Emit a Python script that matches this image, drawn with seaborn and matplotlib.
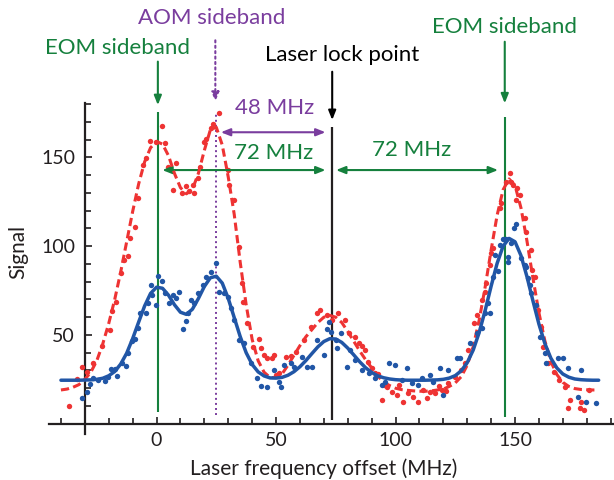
import numpy as np
import pandas as pd
import matplotlib
matplotlib.use("Agg")
import matplotlib.pyplot as plt
from matplotlib.ticker import MultipleLocator, FixedLocator
import seaborn as sns

# measured signal (dots)
red_mhz = [-36.7, -33.2, -31.4, -28.9, -26.5, -23.0, -19.6, -18.5, -17.0, -14.7, -13.8, -12.0, -11.2, -9.2,
           -7.6, -5.7, -4.3, -2.6, -0.4, 2.4, 3.6, 4.7, 6.8, 8.2, 10.7, 12.4, 13.6, 15.1, 15.8, 17.2, 18.2,
           20.0, 20.7, 22.8, 23.5, 26.2, 29.7, 30.4, 32.5, 34.6, 35.7, 36.0, 38.0, 40.4, 42.9, 43.6, 45.0,
           46.4, 48.5, 49.2, 49.9, 51.2, 54.3, 56.1, 58.2, 61.7, 64.5, 67.2, 68.6, 71.4, 73.5, 76.0, 79.0,
           80.4, 82.9, 84.6, 86.0, 87.4, 88.5, 90.1, 91.5, 92.8, 94.3, 95.0, 96.4, 98.5, 100.5, 101.5, 103.3,
           105.4, 107.5, 109.6, 111.7, 113.0, 114.4, 116.5, 118.0, 119.3, 121.0, 122.1, 124.9, 127.6, 129.0,
           130.4, 132.9, 133.9, 136.0, 137.4, 138.0, 139.5, 140.1, 140.8, 143.6, 144.3, 146.4, 147.8, 148.5,
           149.2, 150.6, 151.0, 152.0, 154.0, 154.7, 156.8, 156.9, 158.2, 159.6, 161.0, 161.7, 163.8, 166.5,
           168.6, 170.7, 172.1, 172.8, 177.0, 177.6, 179.0, 181.1]
red_sig = [10, 25, 32, 29, 34, 44, 53, 63.5, 68.7, 84.7, 92, 94.5, 104.6, 111,
           127, 145.7, 149.5, 159.4, 158.7, 167.7, 158.3, 144.8, 131.6, 146.7, 129.8, 133.9, 131, 134.5, 129.8, 138.2, 144.8,
           158.9, 160.2, 166.4, 168.8, 175.2, 142.9, 134.5, 126, 99.7, 79, 68.7, 56.6, 43.4, 47.5, 42.5, 38.7,
           36.8, 36.8, 38.7, 27.4, 28.7, 37.7, 38.1, 40.6, 47.2, 54.6, 62.5, 64, 61.2, 58.4, 62.2, 58.4,
           50.9, 49, 45.3, 44, 41.5, 35, 31.2, 28.4, 28, 13.4, 22, 20.8, 18, 16.2, 22, 12.4,
           17.1, 15.2, 12.4, 19, 14.5, 18, 17.1, 21, 19, 18.5, 22.8, 26.5, 30.3, 34,
           41.5, 56.6, 61.2, 69.7, 74.4, 79, 89.4, 96, 98.8, 121.3, 124.2, 136.3, 141.4, 136.3,
           134.5, 126, 132.6, 128.8, 115.7, 108.2, 97.9, 86.6, 82.8, 64, 54.6, 43.4, 34, 29.3,
           24.6, 20.8, 8.7, 13.4, 8.7, 12.4, 7.7, 19]

blue_mhz = [-31.4, -29.3, -27.9, -26.5, -24.5, -21.7, -20.3, -18.9, -17.5, -16.5, -14.3, -12.9, -12.0, -10.1,
            -9.2, -7.8, -6.8, -4.6, -3.6, -2.2, -1.8, -0.4, 0.8, 2.4, 3.6, 5.1, 6.8, 8.2, 9.6, 11.0, 12.4,
            13.3, 14.5, 15.8, 17.2, 19.3, 20.7, 22.8, 24.9, 26.2, 28.3, 29.7, 31.1, 32.5, 34.6, 36.7, 39.5,
            42.2, 43.6, 46.4, 49.2, 51.2, 51.9, 53.3, 56.1, 57.5, 60.7, 63.0, 65.1, 67.2, 70.0, 71.4, 72.1,
            73.2, 74.9, 75.6, 77.0, 79.7, 81.1, 83.2, 86.0, 88.8, 91.5, 94.3, 95.7, 97.1, 99.9, 102.6, 104.7,
            106.8, 109.6, 111.0, 114.4, 115.8, 118.6, 120.0, 122.1, 125.6, 127.0, 131.1, 133.9, 136.0, 137.4,
            138.8, 139.5, 140.8, 141.5, 142.9, 143.6, 145.0, 146.4, 146.9, 147.1, 148.5, 149.6, 150.6, 152.6,
            154.0, 154.7, 155.4, 156.1, 156.8, 158.9, 160.3, 162.4, 163.1, 167.9, 170.0, 172.1, 176.2, 177.6,
            179.7, 183.9]
blue_sig = [14.3, 18, 22.4, 26, 24.6, 24.2, 26.5, 30.6, 30.6, 26.9, 34.4, 32.5, 39.7, 46.8,
            47.5, 54, 62.2, 62.5, 67.8, 78, 72.5, 66.9, 83.2, 80.6, 73.4, 67.8, 72.5, 70.6, 74.4, 53.2, 58,
            62.2, 69.7, 68.2, 73.5, 78.1, 82.5, 85.6, 90.4, 74.4, 73.5, 71.6, 65, 58.4, 47.2, 45.3, 34,
            25.6, 21.2, 20.5, 30.3, 23.7, 20.8, 33, 34, 32.1, 37.7, 32.1, 32.1, 47.2, 38.7, 53.2, 57.5,
            51.8, 47.2, 42.5, 50.9, 32.1, 41.5, 35.9, 30.3, 28.4, 25.6, 21.8, 23.7, 34, 33, 24.6, 31.2,
            22.8, 21.8, 25.6, 27.4, 23.7, 31.2, 16.2, 30.3, 36.8, 36.8, 45.3, 50.9, 53.7, 62.2,
            67.8, 62.2, 82.8, 95, 86.2, 100.7, 103.9, 103.9, 94.1, 91.3, 101.6, 110.1, 112.5, 93.2,
            89.4, 88.5, 81.9, 78.1, 73.5, 66.9, 49, 39.7, 34, 36.8, 36.8, 31.2, 15.2, 30.3,
            12.4, 11.5]

fit_mhz = [-40, -37.5, -35, -32.5, -30, -27.5, -25, -22.5, -20, -17.5, -15, -12.5, -10, -7.5, -5, -2.5,
           0, 2.5, 5, 7.5, 10, 12.5, 15, 17.5, 20, 22.5, 25, 27.5, 30, 32.5, 35, 37.5,
           40, 42.5, 45, 47.5, 50, 52.5, 55, 57.5, 60, 62.5, 65, 67.5, 70, 72.5, 75, 77.5,
           80, 82.5, 85, 87.5, 90, 92.5, 95, 97.5, 100, 102.5, 105, 107.5, 110, 112.5, 115, 117.5,
           120, 122.5, 125, 127.5, 130, 132.5, 135, 137.5, 140, 142.5, 145, 147.5, 150, 152.5, 155, 157.5,
           160, 162.5, 165, 167.5, 170, 172.5, 175, 177.5, 180, 182.5, 185]
blue_fit = [24.5, 24.5, 24.5, 24.5, 24.6, 24.7, 25.0, 25.6, 27.0, 29.4, 33.6, 39.7, 47.9, 57.2, 66.3, 73.4,
            76.9, 76.3, 72.4, 67.0, 62.8, 61.6, 64.5, 70.5, 77.3, 82.2, 83.1, 79.2, 70.6, 59.8, 49.1, 40.0,
            33.4, 29.2, 26.9, 25.8, 25.7, 26.1, 27.3, 29.3, 32.1, 35.6, 39.5, 43.3, 46.3, 47.9, 47.7, 45.8,
            42.6, 38.8, 34.9, 31.5, 28.9, 27.0, 25.9, 25.2, 24.8, 24.6, 24.5, 24.5, 24.5, 24.5, 24.6, 24.7,
            25.0, 25.7, 27.1, 29.8, 34.4, 41.5, 51.4, 63.8, 77.5, 90.3, 100.0, 104.4, 102.5, 94.7, 82.8, 69.2,
            56.1, 45.1, 36.9, 31.4, 28.0, 26.2, 25.2, 24.8, 24.6, 24.5, 24.5]
red_fit = [19.0, 19.5, 20.5, 22.0, 25.0, 29.0, 35.5, 45.0, 56.5, 70.0, 85.5, 102.5, 119.5, 135.0, 147.5, 155.5,
           159.0, 157.5, 151.0, 141.0, 133.0, 129.5, 132.0, 141.0, 154.0, 165.5, 167.0, 157.0, 139.0, 118.0, 91.0, 67.0,
           47.5, 35.5, 29.0, 26.0, 26.0, 28.0, 33.0, 38.5, 44.0, 49.0, 53.0, 57.0, 60.0, 61.0, 60.0, 57.0,
           52.0, 46.5, 41.0, 36.0, 31.5, 27.0, 23.5, 21.5, 20.0, 19.2, 18.8, 18.5, 18.3, 18.3, 18.5, 19.0,
           19.5, 21.0, 23.0, 26.5, 33.0, 43.5, 58.3, 77.0, 97.9, 117.4, 131.8, 137.9, 134.2, 121.5, 102.9, 82.0,
           62.5, 46.6, 35.0, 27.7, 23.3, 21.0, 19.8, 19.3, 19.1, 19.0, 19.0]

# sideband / lock frequencies (MHz)
eom_low, aom, lock, eom_high = 0.7, 24.9, 73.5, 145.7

RED = "#ee3333"
BLUE = "#2156a6"
GREEN = "#15803d"
PURPLE = "#7a3d9e"
INK = "#231f20"

sns.set_style("ticks")
plt.rcParams["font.family"] = ["Lato", "DejaVu Sans"]

fig = plt.figure(figsize=(6.14, 4.8), dpi=100)
ax = fig.add_axes([0.0798, 0.0951, 0.9186, 0.6915])

red_df = pd.DataFrame({"mhz": red_mhz, "signal": red_sig})
blue_df = pd.DataFrame({"mhz": blue_mhz, "signal": blue_sig})
fit_df = pd.DataFrame({"mhz": fit_mhz, "blue": blue_fit, "red": red_fit})

# marker lines
ax.vlines(eom_low, 6.8, 175.8, color=GREEN, lw=1.5, zorder=1)
ax.vlines(eom_high, 4, 172.6, color=GREEN, lw=1.5, zorder=1)
ax.vlines(lock, 2, 167, color=INK, lw=1.6, zorder=1)
ax.vlines(aom, 4.9, 175, color=PURPLE, lw=1.4, linestyles=(0, (1, 1.6)), zorder=1)

sns.scatterplot(data=red_df, x="mhz", y="signal", color=RED, s=15, linewidth=0, ax=ax, zorder=3)
sns.lineplot(data=fit_df, x="mhz", y="red", color=RED, lw=2.2, linestyle=(0, (2.7, 1.4)), ax=ax, zorder=4)
sns.scatterplot(data=blue_df, x="mhz", y="signal", color=BLUE, s=15, linewidth=0, ax=ax, zorder=5)
sns.lineplot(data=fit_df, x="mhz", y="blue", color=BLUE, lw=2.5, ax=ax, zorder=6)

# axes like the original: crossing, inward ticks
ax.set_xlim(-45, 191)
ax.set_ylim(-6, 181)
ax.spines["top"].set_visible(False)
ax.spines["right"].set_visible(False)
ax.spines["bottom"].set_position(("data", 0))
ax.spines["left"].set_position(("data", -30))
ax.spines["left"].set_bounds(-6, 180.5)
for s in ("bottom", "left"):
    ax.spines[s].set_linewidth(1.6)
    ax.spines[s].set_color(INK)
ax.xaxis.set_major_locator(FixedLocator([0, 50, 100, 150]))
ax.yaxis.set_major_locator(FixedLocator([50, 100, 150]))
ax.xaxis.set_minor_locator(MultipleLocator(10))
ax.yaxis.set_minor_locator(MultipleLocator(10))
ax.tick_params(which="both", direction="in", color=INK, width=1.2, labelsize=14, labelcolor=INK)
ax.tick_params(which="major", length=5)
ax.tick_params(which="minor", length=4)
ax.tick_params(axis="x", pad=6)
ax.tick_params(axis="y", pad=7)

ax.set_xlabel("Laser frequency offset (MHz)", fontsize=15, color=INK, va="center")
ax.xaxis.set_label_coords(0.487, -0.103)
ax.set_ylabel("Signal", fontsize=15, color=INK, va="center")
ax.yaxis.set_label_coords(-0.054, 0.549)

# annotations
txt = dict(ha="center", va="center", fontsize=16, clip_on=False)
ax.text(-16.5, 211.5, "EOM sideband", color=GREEN, **txt)
ax.text(23.1, 228.4, "AOM sideband", color=PURPLE, **txt)
ax.text(77.5, 207.7, "Laser lock point", color="black", **txt)
ax.text(145.4, 223.7, "EOM sideband", color=GREEN, **txt)
ax.text(49.4, 177.7, "48 MHz", color=PURPLE, **txt)
ax.text(48.8, 152.3, "72 MHz", color=GREEN, **txt)
ax.text(106.8, 154.2, "72 MHz", color=GREEN, **txt)


def arrow(x0, y0, x1, y1, color, style="-|>", ls="-"):
    ax.annotate("", xy=(x1, y1), xytext=(x0, y0), annotation_clip=False,
                arrowprops=dict(arrowstyle=style + ",head_length=0.55,head_width=0.22",
                                color=color, lw=1.5, ls=ls, shrinkA=0, shrinkB=0))


arrow(0.55, 204, 0.55, 179.5, GREEN)
arrow(145.7, 215.2, 145.7, 180.5, GREEN)
arrow(73.5, 198.3, 73.5, 171.1, "black")
arrow(24.6, 216, 24.6, 181.4, PURPLE, ls=(0, (1, 1.6)))
arrow(26.9, 164.2, 70.7, 164.2, PURPLE, style="<|-|>")
arrow(2.4, 142.9, 70.7, 142.9, GREEN, style="<|-|>")
arrow(75.1, 142.9, 142.9, 142.9, GREEN, style="<|-|>")

fig.savefig("out.png", dpi=100)
